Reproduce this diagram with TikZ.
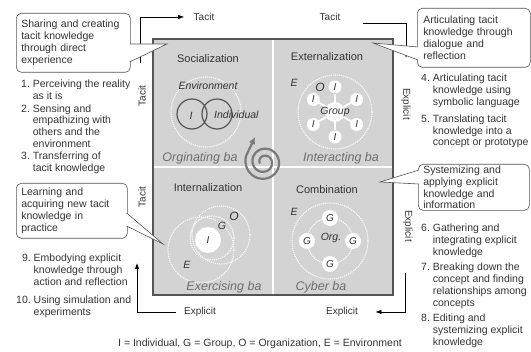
\documentclass[tikz,border=0pt]{standalone}
\usepackage{fontspec}
\setmainfont{Liberation Sans}
\usetikzlibrary{arrows.meta}

\definecolor{ink}{HTML}{333333}
\definecolor{panel}{HTML}{D3D3D3}
\definecolor{frame}{HTML}{555555}
\definecolor{baname}{HTML}{6E6E6E}
\definecolor{swirl}{HTML}{7A7A7A}

\newcommand{\listfont}{\fontsize{10.5}{11.8}\selectfont}

\begin{document}
\begin{tikzpicture}[x=1pt, y=-1pt, text=ink,
    callout/.style={draw=frame, line width=0.6pt, fill=white, rounded corners=5pt,
      anchor=north west, align=left, inner xsep=5pt, font=\listfont},
    pointer/.style={draw=frame, line width=0.6pt, fill=white},
    steps/.style={anchor=base west, inner sep=0pt, font=\listfont},
    flow/.style={draw=black, line width=0.7pt, -{Latex[length=6pt,width=4.5pt]}},
    side/.style={font=\fontsize{10}{12}\selectfont},
    mode/.style={font=\fontsize{11}{13}\selectfont},
    ba/.style={font=\fontsize{12.5}{14}\selectfont\itshape, text=baname},
    tag/.style={font=\fontsize{10.5}{12}\selectfont\itshape, inner sep=0pt},
    ring/.style={draw=white, densely dotted, line width=1.1pt},
    member/.style={circle, fill=white, inner sep=0pt, font=\fontsize{10}{11}\selectfont\itshape},
  ]
  \useasboundingbox (0,0) rectangle (531,352);

  \fill[panel] (153,39) rectangle (393,295);
  \draw[white, line width=2.5pt] (273,39) -- (273,295) (153,167) -- (393,167);
  \draw[frame, line width=1.3pt] (153,39) rectangle (393,295);

  \node[mode] (soc) at (208,59) {Socialization};
  \draw[ring] (206,112) circle[radius=35];
  \node[tag] (env) at (208,86) {Environment};
  \draw[frame, line width=1.2pt] (192,114) circle[radius=15] (217,114) circle[radius=15];
  \node[tag] (indA) at (191,116) {I};
  \node[tag, anchor=west] (indB) at (214,115) {Individual};
  \node[ba] (orig) at (200,158) {Orginating ba};

  \node[mode] (ext) at (327,57) {Externalization};
  \draw[ring] (335,112) circle[radius=37];
  \node[tag] (envB) at (294,83) {E};
  \node[tag, font=\fontsize{12}{13}\selectfont\itshape] (orgB) at (320,87) {O};
  \node[member, minimum size=20pt] (group) at (335,112) {};
  \foreach \a/\n in {90/1, 150/2, 30/3, 210/4, 330/5, 270/6} {
    \node[member, minimum size=13pt] (ind\n) at ([shift={(\a:25)}]335,112) {I};
    \draw[white, line width=2pt] (group) -- (ind\n);
  }
  \node[tag] (grouptext) at (group) {Group};
  \node[ba] (inter) at (341,158) {Interacting ba};

  \node[mode] (int) at (208,188) {Internalization};
  \draw[ring] (221,235) circle[radius=29] (201,250) circle[radius=33] (212,238) circle[radius=22];
  \node[member, minimum size=26pt] (self) at (208,240) {I};
  \node[tag] (grp) at (222,226) {G};
  \node[tag, font=\fontsize{12}{13}\selectfont\itshape] (org) at (234,216) {O};
  \node[tag] (envC) at (187,265) {E};
  \node[ba] (exer) at (224,287) {Exercising ba};

  \node[mode] (comb) at (327,190) {Combination};
  \draw[ring] (330,241) circle[radius=38] (330,241) circle[radius=23];
  \node[tag] (envD) at (294,212) {E};
  \foreach \a/\n in {90/1, 180/2, 0/3, 270/4}
    \node[member, minimum size=16pt] (g\n) at ([shift={(\a:23)}]330,241) {G};
  \node[tag] (orgD) at (331,238) {Org.};
  \node[ba] (cyber) at (321,287) {Cyber ba};

  \draw[swirl, line width=2.2pt, -{Latex[length=7pt,width=7pt]}]
    plot[domain=-200:560, samples=120, smooth, variable=\t]
      ({264+(8+7*\t/360)*cos(\t)}, {162+(8+7*\t/360)*sin(\t)}) -- (255,137);

  \node[side] (tacitA) at (204,17) {Tacit};
  \node[side] (tacitB) at (330,17) {Tacit};
  \node[side] (explicitA) at (200,312) {Explicit};
  \node[side] (explicitB) at (342,312) {Explicit};
  \node[side, rotate=90] (tacitC) at (142,96) {Tacit};
  \node[side, rotate=90] (tacitD) at (142,197) {Tacit};
  \node[side, rotate=-90] (explicitC) at (406,104) {Explicit};
  \node[side, rotate=-90] (explicitD) at (408,226) {Explicit};

  \coordinate (socfoot) at (140,63);
  \coordinate (extstart) at (363,23);
  \coordinate (extfoot) at (406,58);
  \coordinate (combtop) at (405,273);
  \coordinate (intfoot) at (137,263);
  \draw[flow] (socfoot) |- ([xshift=-6pt]tacitA.west);
  \draw[flow] (extstart) -| (extfoot);
  \draw[flow] (combtop) |- ([xshift=14pt]explicitB.east);
  \draw[flow] ([xshift=-5pt]explicitA.west) -| (intfoot);

  \node[callout, text width=104pt, minimum height=59pt] (sharing) at (16,13)
    {Sharing and creating\\ tacit knowledge\\ through direct\\ experience};
  \node[callout, text width=101pt, minimum height=59pt, inner xsep=6pt] (dialogue) at (417,8)
    {Articulating tacit\\ knowledge through\\ dialogue and\\ reflection};
  \node[callout, text width=101pt, inner ysep=1.5pt] (applying) at (418,164)
    {Systemizing and\\ applying explicit\\ knowledge and\\ information};
  \node[callout, text width=101pt, minimum height=55pt] (practice) at (16,183)
    {Learning and\\ acquiring new tacit\\ knowledge in\\ practice};

  \coordinate (sharingtip) at (167,44);
  \coordinate (dialoguetip) at (373,43);
  \coordinate (applyingtip) at (380,182);
  \coordinate (practicetip) at (163,244);
  \draw[pointer] ([xshift=-1pt,yshift=-31pt]sharing.north east) -- (sharingtip)
    -- ([xshift=-1pt,yshift=-49pt]sharing.north east);
  \draw[pointer] ([xshift=1pt,yshift=-39pt]dialogue.north west) -- (dialoguetip)
    -- ([xshift=1pt,yshift=-52pt]dialogue.north west);
  \draw[pointer] ([xshift=1pt,yshift=-6pt]applying.north west) -- (applyingtip)
    -- ([xshift=1pt,yshift=-20pt]applying.north west);
  \draw[pointer] ([xshift=-1pt,yshift=-30pt]practice.north east) -- (practicetip)
    -- ([xshift=-1pt,yshift=-43pt]practice.north east);

  \node[steps] (socsteps) at (21,88) {\begin{tabular}[t]{@{}r@{\ }l@{}}
    1. & Perceiving the reality\\ & as it is\\[0.5pt]
    2. & Sensing and\\ & empathizing with\\ & others and the\\ & environment\\[0.5pt]
    3. & Transferring of\\ & tacit knowledge
  \end{tabular}};
  \node[steps] (extsteps) at (421,82) {\begin{tabular}[t]{@{}r@{\ }l@{}}
    4. & Articulating tacit\\ & knowledge using\\ & symbolic language\\[5pt]
    5. & Translating tacit\\ & knowledge into a\\ & concept or prototype
  \end{tabular}};
  \node[steps] (combsteps) at (421,232) {\begin{tabular}[t]{@{}r@{\ }l@{}}
    6. & Gathering and\\ & integrating explicit\\ & knowledge\\[3.5pt]
    7. & Breaking down the\\ & concept and finding\\ & relationships among\\ & concepts\\[3.5pt]
    8. & Editing and\\ & systemizing explicit\\ & knowledge
  \end{tabular}};
  \node[steps] (intsteps) at (16,262) {\begin{tabular}[t]{@{}r@{\ }l@{}}
    9. & Embodying explicit\\ & knowledge through\\ & action and reflection\\[6pt]
    10. & Using simulation and\\ & experiments
  \end{tabular}};

  \node[font=\listfont] (legend) at (260,344)
    {I = Individual, G = Group, O = Organization, E = Environment};
\end{tikzpicture}
\end{document}
